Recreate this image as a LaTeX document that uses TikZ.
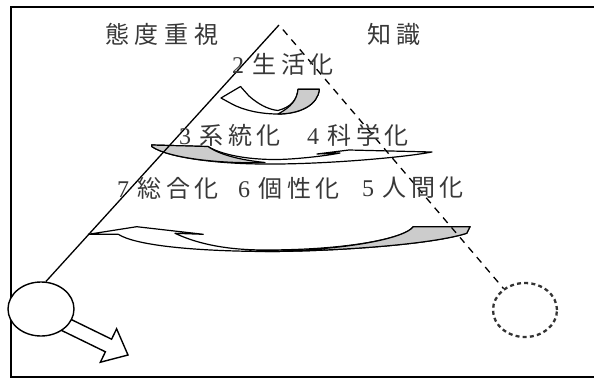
\documentclass[tikz,border=0pt]{standalone}
\usepackage{fontspec}
\setmainfont{Liberation Serif}
\newfontfamily\jp[LetterSpace=19]{Noto Sans CJK JP}
\newfontfamily\jph[LetterSpace=24]{Noto Sans CJK JP}
\usetikzlibrary{shapes.geometric}
\definecolor{shadegray}{gray}{0.8}
\definecolor{textgray}{gray}{0.22}
\newcommand{\numlbl}[2]{#1\hspace{8.5pt}{\jp #2}}
\begin{document}
\begin{tikzpicture}[x=1pt,y=-1pt,
  lbl/.style={anchor=west, inner sep=0pt, text=textgray, font=\fontsize{24pt}{28pt}\selectfont},
  frameline/.style={line width=1.8pt},
  arrowbody/.style={draw=black, line width=1.2pt, fill=white, line join=round},
  arrowshade/.style={draw=black, line width=1.2pt, fill=shadegray, line join=round},
  sideline/.style={line width=1.3pt},
  blockarrow/.style={draw=black, line width=1.4pt, fill=white, line join=miter},
  ballsolid/.style={ellipse, draw=black, line width=1.4pt, fill=white, minimum width=66pt, minimum height=54pt, inner sep=0pt},
  balldashed/.style={ellipse, draw=black!80, line width=2.3pt, dash pattern=on 4pt off 3.2pt, minimum width=64pt, minimum height=54pt, inner sep=0pt}]
\useasboundingbox (0,0) rectangle (594,378);
% frame
\draw[frameline] (600,7) -- (11,7) -- (11,377) -- (600,377);

% top curved arrow (2)
\draw[arrowbody] (221,98) -- (240.5,86.5) -- (249,96) .. controls (258,104) and (268,109.5) .. (278,110.5)
  .. controls (291,107) and (297,100) .. (298,89.3) -- (319.3,89.3)
  .. controls (318,105) and (300,114) .. (278,114) .. controls (260,114) and (243,110) .. (232,104) -- cycle;
\draw[arrowshade] (298,89.3) -- (319.3,89.3) .. controls (318,105) and (300,114) .. (278,114)
  .. controls (291,107) and (297,100) .. (298,89.3) -- cycle;

% middle curved arrow (3,4)
\draw[arrowbody] (208,146.5) .. controls (225,157) and (260,161) .. (290,159)
  .. controls (312,157.5) and (330,155) .. (340,153) -- (317,154) -- (349,150) -- (432,152)
  .. controls (400,158) and (320,164.5) .. (265,164) .. controls (220,164) and (168,158) .. (151.7,146.5)
  -- (151.7,145) -- cycle;
\draw[arrowshade] (151.7,145) -- (208,146.5) .. controls (214,151) and (230,159) .. (265,162.5)
  .. controls (220,164) and (168,158) .. (151.7,146.5) -- cycle;

% bottom curved arrow (7,6,5)
\draw[arrowbody] (88.3,234.3) -- (136.7,226.7) -- (203.3,234.3) -- (175,233.3)
  .. controls (200,245) and (230,250) .. (265,250) .. controls (350,250) and (405,238) .. (413.3,226.7)
  -- (470,226.7) -- (466.7,233.3) .. controls (430,245) and (330,251.5) .. (265,251.5)
  .. controls (190,251) and (135,245) .. (118.3,234.3) -- cycle;
\draw[arrowshade] (413.3,226.7) -- (470,226.7) -- (466.7,233.3) .. controls (430,245) and (330,251.5) .. (265,251.5)
  .. controls (350,250) and (405,238) .. (413.3,226.7) -- cycle;

% block arrow from the left ball
\draw[blockarrow] (62.2,315.1) -- (111.6,339.2) -- (116.6,328.8) -- (128,355) -- (100.4,362.2) -- (105.4,351.8) -- (56,327.7) -- cycle;

% balls
\node[ballsolid] (lc) at (41,309) {};
\node[balldashed] (rc) at (525,310) {};

% triangle sides
\coordinate (apex) at (279,25);
\draw[sideline] (apex) -- (lc.80);
\draw[sideline, dash pattern=on 7pt off 6pt, dash phase=7pt] (apex) -- (rc.135);

% labels
\node[lbl] (t1) at (105,34) {\jph 態度重視};
\node[lbl] (t2) at (367,34) {\jph 知識};
\node[lbl] (l2) at (232,64) {\numlbl{2}{生活化}};
\node[lbl] (l3) at (179,135) {\numlbl{3}{系統化}};
\node[lbl] (l4) at (307,135) {\numlbl{4}{科学化}};
\node[lbl] (l7) at (117,188) {\numlbl{7}{総合化}};
\node[lbl] (l6) at (238,188) {\numlbl{6}{個性化}};
\node[lbl] (l5) at (362,188) {\numlbl{5}{人間化}};
\end{tikzpicture}
\end{document}
